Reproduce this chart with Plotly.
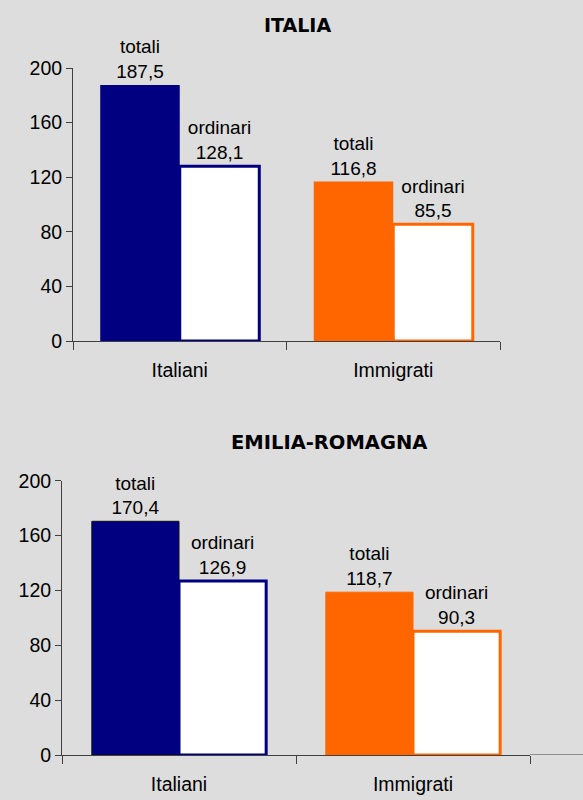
import plotly.graph_objects as go

categories = ["Italiani", "Immigrati"]
italia_totali = [187.5, 116.8]
italia_ordinari = [128.1, 85.5]
er_totali = [170.4, 118.7]
er_ordinari = [126.9, 90.3]
titles = ["ITALIA", "EMILIA-ROMAGNA"]
y_ticks = [0, 40, 80, 120, 160, 200]

NAVY = "#000080"
ORANGE = "#ff6600"
BG = "#dddddd"
FONT = "Liberation Sans"

def fmt(v):
    return f"{v:.1f}".replace(".", ",")

fig = go.Figure()

panels = [
    (italia_totali, italia_ordinari, "x", "y", dict(width=0)),
    (er_totali, er_ordinari, "x2", "y2", dict(width=1, color=["#101010", ORANGE])),
]
for tot, ordi, xa, ya, tline in panels:
    fig.add_trace(go.Bar(
        x=categories, y=tot, xaxis=xa, yaxis=ya,
        marker=dict(color=[NAVY, ORANGE], line=tline),
        text=["totali<br>" + fmt(v) for v in tot],
        textposition="outside", cliponaxis=False, constraintext="none",
        textfont=dict(family=FONT, size=19, color="black"),
        showlegend=False, hoverinfo="skip",
    ))
    fig.add_trace(go.Bar(
        x=categories, y=ordi, xaxis=xa, yaxis=ya,
        marker=dict(color="white", line=dict(width=3, color=[NAVY, ORANGE])),
        text=["ordinari<br>" + fmt(v) for v in ordi],
        textposition="outside", cliponaxis=False, constraintext="none",
        textfont=dict(family=FONT, size=19, color="black"),
        showlegend=False, hoverinfo="skip",
    ))

axis_common = dict(showgrid=False, zeroline=False, showline=True, automargin=False,
                   linecolor="#404040", linewidth=1, ticks="outside",
                   tickcolor="#404040", tickfont=dict(family=FONT, size=19.5, color="black"))

fig.update_layout(
    width=583, height=800,
    paper_bgcolor=BG, plot_bgcolor=BG,
    margin=dict(l=0, r=0, t=0, b=0, autoexpand=False),
    barmode="group", bargap=0.255, bargroupgap=0,
    xaxis=dict(domain=[73/583, 500/583], anchor="y", tickson="boundaries",
               ticklen=8, ticklabelstandoff=12, **axis_common),
    yaxis=dict(domain=[1-341/800, 1-68/800], anchor="x", range=[0, 200],
               tickvals=y_ticks, ticklen=6, **axis_common),
    xaxis2=dict(domain=[62/583, 530/583], anchor="y2", tickson="boundaries",
                ticklen=8, ticklabelstandoff=12, **axis_common),
    yaxis2=dict(domain=[1-755/800, 1-480.7/800], anchor="x2", range=[0, 200],
                tickvals=y_ticks, ticklen=6, **axis_common),
    annotations=[
        dict(text="<b>" + titles[0] + "</b>", x=297/583, y=1-25/800, xref="paper", yref="paper",
             xanchor="center", yanchor="middle",
             showarrow=False, font=dict(family="DejaVu Sans", size=19, color="black")),
        dict(text="<b>" + titles[1] + "</b>", x=329/583, y=1-442/800, xref="paper", yref="paper",
             xanchor="center", yanchor="middle",
             showarrow=False, font=dict(family="DejaVu Sans", size=19.5, color="black")),
    ],
    shapes=[
        dict(type="line", xref="paper", yref="y2", x0=530/583, x1=1, y0=0, y1=0,
             line=dict(color="#404040", width=1)),
    ],
)

fig.write_html("out.html", config={"displayModeBar": False},
               post_script="document.body.style.margin='0';document.body.style.overflow='hidden';")
